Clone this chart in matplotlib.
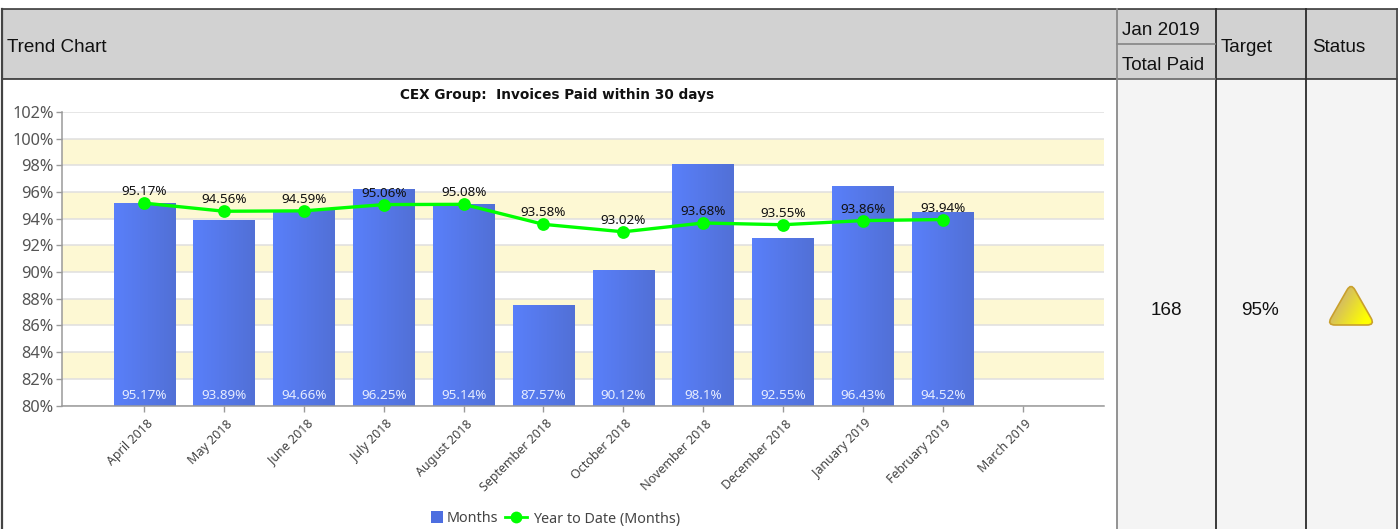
import numpy as np
import matplotlib
matplotlib.use('Agg')
import matplotlib.pyplot as plt
from matplotlib.patches import Rectangle, PathPatch
from matplotlib.path import Path
from matplotlib.transforms import ScaledTranslation

months = ['April 2018', 'May 2018', 'June 2018', 'July 2018', 'August 2018', 'September 2018',
          'October 2018', 'November 2018', 'December 2018', 'January 2019', 'February 2019', 'March 2019']
month_vals = [95.17, 93.89, 94.66, 96.25, 95.14, 87.57, 90.12, 98.1, 92.55, 96.43, 94.52]
month_labels = ['95.17%', '93.89%', '94.66%', '96.25%', '95.14%', '87.57%', '90.12%', '98.1%', '92.55%', '96.43%', '94.52%']
ytd_vals = [95.17, 94.56, 94.59, 95.06, 95.08, 93.58, 93.02, 93.68, 93.55, 93.86, 93.94]
ytd_labels = ['95.17%', '94.56%', '94.59%', '95.06%', '95.08%', '93.58%', '93.02%', '93.68%', '93.55%', '93.86%', '93.94%']
yticks = [80, 82, 84, 86, 88, 90, 92, 94, 96, 98, 100, 102]
bands = [(82, 84), (86, 88), (90, 92), (94, 96), (98, 100)]

W, H = 1398, 529
CHART_FONT = 'Noto Sans'
TABLE_FONT = 'Liberation Sans'

fig = plt.figure(figsize=(W / 100, H / 100), dpi=100, facecolor='white')

# page layer in pixel coords, table around the chart
bg = fig.add_axes([0, 0, 1, 1])
bg.set_xlim(0, W)
bg.set_ylim(H, 0)
bg.axis('off')

HEAD = '#d2d2d2'
BODY = '#f4f4f4'
bg.add_patch(Rectangle((2, 9), 1394, 70, fc=HEAD, ec='none'))
bg.add_patch(Rectangle((1117, 79), 279, 450, fc=BODY, ec='none'))

dark = '#2b2b2b'
bg.plot([2, 1397], [9, 9], color=dark, lw=1.1)
bg.plot([2, 1397], [79, 79], color='#222222', lw=1.1)
bg.plot([2, 2], [9, 529], color='#444444', lw=1.6)
bg.plot([1396.5, 1396.5], [9, 529], color='#444444', lw=1.3)
bg.plot([1116.5, 1116.5], [9, 529], color='#8a8a8a', lw=1.3)
bg.plot([1215.5, 1215.5], [9, 529], color=dark, lw=1.3)
bg.plot([1306, 1306], [9, 529], color=dark, lw=1.3)
bg.plot([1117, 1215], [44, 44], color='#8a8a8a', lw=1.3)
bg.plot([1117, 1215], [79, 79], color='#8a8a8a', lw=1.1)

tkw = dict(family=TABLE_FONT, fontsize=13.6, color='#111111', va='center')
bg.text(7, 47.5, 'Trend Chart', ha='left', **tkw)
bg.text(1122, 30.5, 'Jan 2019', ha='left', **tkw)
bg.text(1122, 65, 'Total Paid', ha='left', **tkw)
bg.text(1221, 47.5, 'Target', ha='left', **tkw)
bg.text(1312, 47.5, 'Status', ha='left', **tkw)
bg.text(1166, 310.5, '168', ha='center', **tkw)
bg.text(1260.5, 310.5, '95%', ha='center', **tkw)


def rounded_tri(corners, d):
    verts, codes = [], []
    n = len(corners)
    for i in range(n):
        prev_c = np.array(corners[i - 1], float)
        cur = np.array(corners[i], float)
        next_c = np.array(corners[(i + 1) % n], float)
        a = cur + (prev_c - cur) / np.linalg.norm(prev_c - cur) * d
        b = cur + (next_c - cur) / np.linalg.norm(next_c - cur) * d
        verts += [a, cur, b]
        codes += [Path.MOVETO if i == 0 else Path.LINETO, Path.CURVE3, Path.CURVE3]
    verts.append(verts[0])
    codes.append(Path.CLOSEPOLY)
    return Path(verts, codes)


# warning triangle with gradient fill
tri_path = rounded_tri([(1351, 283), (1327, 325), (1375, 325)], 8)
tri_fill = PathPatch(tri_path, fc='none', ec='none', lw=0)
bg.add_patch(tri_fill)
bg.add_patch(PathPatch(tri_path, fc='none', ec='#c9a02c', lw=1.2, zorder=3))
gx, gy = np.meshgrid(np.linspace(0, 1, 60), np.linspace(0, 1, 60))
grad = np.clip((gx * 0.8 + gy * 0.45 - 0.4) * 1.5, 0, 1)
c0 = np.array([0.84, 0.75, 0.36])
c1 = np.array([1.0, 1.0, 0.0])
tri_img = c0 + (c1 - c0) * grad[..., None]
im = bg.imshow(tri_img, extent=(1330, 1372, 325, 286), aspect='auto', zorder=2, interpolation='bilinear')
im.set_clip_path(tri_fill)
bg.set_xlim(0, W)
bg.set_ylim(H, 0)

# chart
x0, x1 = 62, 1104
y_top, y_bot = 112, 405.5
ax = fig.add_axes([x0 / W, 1 - y_bot / H, (x1 - x0) / W, (y_bot - y_top) / H])
ax.patch.set_alpha(0)
pos = np.arange(len(months))
XLIM = (-1.03, 12.02)
ax.set_ylim(80, 102)

for lo, hi in bands:
    ax.axhspan(lo, hi, color='#fdf8d3', lw=0, zorder=0)
ax.set_yticks(yticks)
ax.set_yticklabels([f'{v}%' for v in yticks], family=CHART_FONT, fontsize=11.8, color='#555555')
ax.grid(axis='y', color='#dfdfdf', lw=1.1, zorder=1)
ax.set_axisbelow(True)

bars = ax.bar(pos[:len(month_vals)], month_vals, width=0.77, color='#5474e6', lw=0, zorder=2)
ramp = np.linspace(0, 1, 64)[None, :, None]
bar_left = np.array([0.35, 0.50, 0.98])
bar_right = np.array([0.32, 0.44, 0.84])
bar_img = bar_left + (bar_right - bar_left) * ramp
for b in bars:
    gi = ax.imshow(bar_img, extent=(b.get_x(), b.get_x() + b.get_width(), 80, b.get_height()),
                   aspect='auto', zorder=2.1, interpolation='bilinear')
    gi.set_clip_path(b)
ax.set_xlim(*XLIM)
ax.set_ylim(80, 102)

ax.plot(pos[:len(ytd_vals)], ytd_vals, color='#00ff00', lw=2.4, marker='o', ms=9.2,
        mew=0, zorder=3, clip_on=False)

for p, lab in zip(pos, month_labels):
    ax.annotate(lab, (p, 80), xytext=(0, 2.5), textcoords='offset points', ha='center', va='bottom',
                family=CHART_FONT, fontsize=9.7, color='#e6ecff', zorder=4)
for p, v, lab in zip(pos, ytd_vals, ytd_labels):
    ax.annotate(lab, (p, v), xytext=(0, 3.5), textcoords='offset points', ha='center', va='bottom',
                family=CHART_FONT, fontsize=9.7, color='#111111', zorder=4)

for s in ['top', 'right']:
    ax.spines[s].set_visible(False)
for s in ['left', 'bottom']:
    ax.spines[s].set_color('#9a9a9a')
    ax.spines[s].set_linewidth(1.1)
ax.tick_params(axis='y', length=4, width=1, color='#9a9a9a', pad=2)
ax.tick_params(axis='x', length=4, width=1, color='#9a9a9a', pad=2)
ax.set_xticks(pos)
ax.set_xticklabels(months, family=CHART_FONT, fontsize=9, color='#444444', rotation=45,
                   ha='right', va='top', rotation_mode='anchor')
shift = ScaledTranslation(1.5 / 72, -2.5 / 72, fig.dpi_scale_trans)
for t in ax.get_xticklabels():
    t.set_transform(t.get_transform() + shift)

bg.text(557, 95, 'CEX Group:  Invoices Paid within 30 days', ha='center', va='center',
        family='DejaVu Sans', fontsize=9.8, fontweight='bold', color='#111111')

# legend, drawn by hand since the swatch and the line key differ in width
bg.add_patch(Rectangle((431, 511), 12, 12, fc='#4d6ee0', ec='none'))
bg.text(447, 522.5, 'Months', ha='left', va='baseline', family=CHART_FONT, fontsize=10.3, color='#444444')
bg.plot([505, 527], [517, 517], color='#00ff00', lw=2, zorder=3)
bg.plot([516], [517], color='#00ff00', marker='o', ms=8.5, mew=0, zorder=3)
bg.text(533, 522.5, 'Year to Date (Months)', ha='left', va='baseline', family=CHART_FONT, fontsize=10.3, color='#444444')

fig.savefig('out.png', dpi=100, facecolor='white')
